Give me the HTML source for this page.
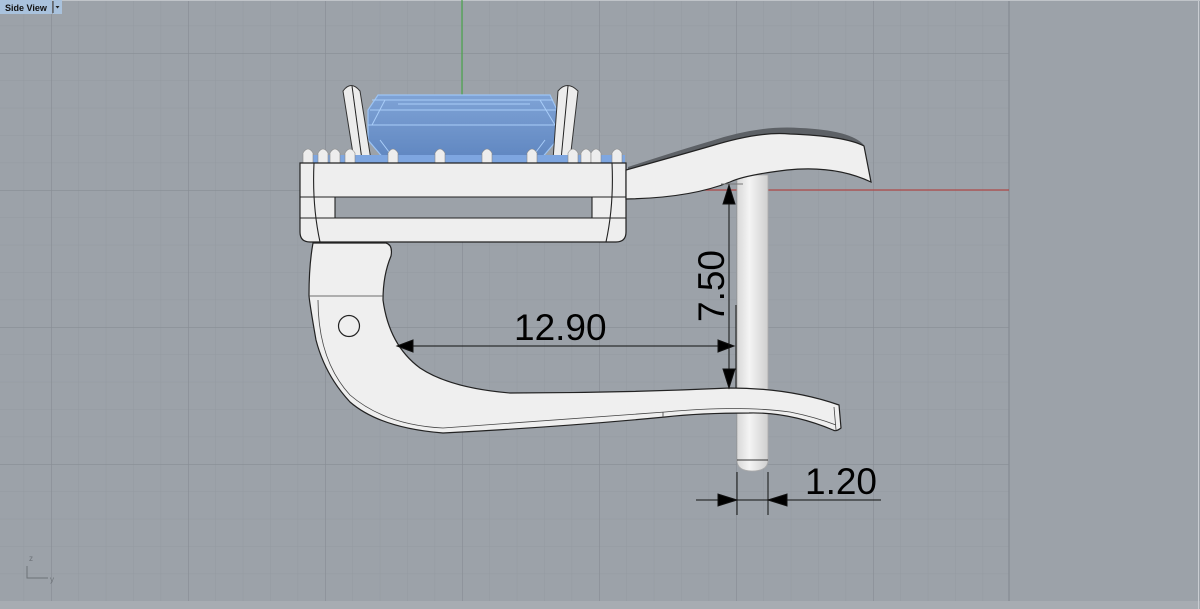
<!DOCTYPE html>
<html><head><meta charset="utf-8"><style>
html,body{margin:0;padding:0;background:#9ca2a9;}
svg{display:block;}
</style></head><body>
<svg width="1200" height="609" viewBox="0 0 1200 609" xmlns="http://www.w3.org/2000/svg">
<defs>
<pattern id="minor" x="462" y="190" width="27.4" height="27.4" patternUnits="userSpaceOnUse">
<path d="M0 0H27.4M0 0V27.4" stroke="#949aa1" stroke-width="1" fill="none"/>
</pattern>
<pattern id="major" x="462" y="190" width="137" height="137" patternUnits="userSpaceOnUse">
<path d="M0 0H137M0 0V137" stroke="#878d94" stroke-width="1.3" fill="none"/>
</pattern>
<linearGradient id="pin" x1="0" x2="1" y1="0" y2="0">
<stop offset="0" stop-color="#d8d8d8"/><stop offset="0.4" stop-color="#f4f4f4"/><stop offset="1" stop-color="#cfcfcf"/>
</linearGradient>
<linearGradient id="stone" x1="0" x2="0" y1="0" y2="1">
<stop offset="0" stop-color="#7fa3d6"/><stop offset="1" stop-color="#5f86c0"/>
</linearGradient>
</defs>
<rect width="1200" height="609" fill="#9ca2a9"/>
<rect x="0" y="0" width="1009" height="601" fill="url(#minor)"/>
<rect x="0" y="0" width="1009" height="601" fill="url(#major)"/>
<line x1="1009" y1="0" x2="1009" y2="601" stroke="#878d94" stroke-width="1.3"/>
<rect x="0" y="601" width="1200" height="8" fill="#a7acb2"/>
<line x1="1198.5" y1="0" x2="1198.5" y2="609" stroke="#c9cdd2"/>
<line x1="0" y1="0.5" x2="1200" y2="0.5" stroke="#c0c4c9"/>
<line x1="462" y1="0" x2="462" y2="120" stroke="#4aa54a" stroke-width="1.2"/>
<line x1="462" y1="190" x2="1009" y2="190" stroke="#b04848" stroke-width="1.2"/>
<rect x="0" y="0" width="52" height="14" fill="#a9c2dd"/>
<text x="5" y="11" font-family="Liberation Sans, sans-serif" font-size="9" font-weight="bold" fill="#111">Side View</text>
<rect x="53" y="0" width="9" height="14" fill="#a9c2dd"/>
<line x1="53" y1="1" x2="53" y2="13" stroke="#333"/>
<path d="M55.5 6h4l-2 2.5z" fill="#222"/>
<path d="M27 566V578H48" stroke="#6d7278" fill="none" stroke-width="1"/>
<text x="29" y="561" font-family="Liberation Sans, sans-serif" font-size="8" fill="#6d7278">z</text>
<text x="50" y="582" font-family="Liberation Sans, sans-serif" font-size="8" fill="#6d7278">y</text>

<path d="M378 95H550L557 110V140L540 160H385L368 140V110Z" fill="url(#stone)" stroke="#9cc4f5" stroke-width="1.2"/>
<path d="M372 100H553M370 110H556M368 125H557M385 100L372 125M540 100L555 125M380 140L395 160M545 140L530 160M398 104H530" stroke="#a9cdf8" stroke-width="1" fill="none"/>
<path d="M408 197H520L505 212H423Z" fill="#5f86c0" stroke="#9cc4f5" stroke-width="1"/>
<path d="M343 91Q351 80 360 91L371 160H354Z" fill="#ececec" stroke="#333" stroke-width="1"/>
<path d="M352 86L362 160" stroke="#222" stroke-width="1"/>
<path d="M558 91Q567 80 578 91L570 160H553Z" fill="#ececec" stroke="#333" stroke-width="1"/>
<path d="M568 86L561 160" stroke="#222" stroke-width="1"/>
<rect x="305" y="155" width="320" height="9" fill="#7ea6e0"/>
<g fill="#ededed" stroke="#888" stroke-width="0.6">
<path d="M303 163V153Q308 145 313 153V163Z"/>
<path d="M318 163V153Q323 145 328 153V163Z"/>
<path d="M330 163V153Q335 145 340 153V163Z"/>
<path d="M345 163V153Q350 145 355 153V163Z"/>
<path d="M388 163V153Q393 145 398 153V163Z"/>
<path d="M435 163V153Q440 145 445 153V163Z"/>
<path d="M482 163V153Q487 145 492 153V163Z"/>
<path d="M527 163V153Q532 145 537 153V163Z"/>
<path d="M568 163V153Q573 145 578 153V163Z"/>
<path d="M581 163V153Q586 145 591 153V163Z"/>
<path d="M591 163V153Q596 145 601 153V163Z"/>
<path d="M612 163V153Q617 145 622 153V163Z"/>
</g>
<path d="M300 163H626V232Q626 242 616 242H310Q300 242 300 232Z" fill="#eeeeee" stroke="#222" stroke-width="1.2"/>
<rect x="335" y="197" width="257" height="21" fill="#9ca2a9"/>
<path d="M300 197H626M335 197V218H592V197M300 218H626" stroke="#222" stroke-width="1.1" fill="none"/>
<path d="M314 163Q312 205 320 242M612 163Q614 205 606 242" stroke="#222" stroke-width="1.1" fill="none"/>

<!-- pin (behind arm and lever) -->
<path d="M737 175H768V460Q768 471 752 471Q737 471 737 460Z" fill="url(#pin)" stroke="#aaa" stroke-width="0.8"/>
<path d="M737 460H768" stroke="#333"/>

<path d="M628 167Q680 150 711 141Q760 125 800 128Q850 130 864 145L862 150Q840 133 787 134Q740 138 711 149Q670 162 628 172Z" fill="#5d6166"/>
<path d="M626 170Q680 155 711 146Q760 131 790 134Q845 136 864 146L871 182Q835 165 787 170Q745 175 730 182Q690 198 626 199Z" fill="#efefef" stroke="#222" stroke-width="1.2"/>

<path d="M313 243H386Q393 245 391 256Q383 275 383 300Q389 345 420 368Q450 388 510 393Q620 393 730 388Q790 388 839 405L841 428Q836 432 833 430Q790 412 749 413Q700 413 665 417Q560 427 443 433Q380 428 350 402Q325 375 316 340Q309 300 309 295Q309 265 313 243Z" fill="#efefef" stroke="#222" stroke-width="1.2"/>
<path d="M309 296H383M318 300Q318 360 350 395Q385 425 443 428Q560 420 665 412Q740 405 790 412Q815 417 836 425M663 412V418M834 407L836 430" stroke="#444" stroke-width="0.8" fill="none"/>
<circle cx="349" cy="326" r="10.5" fill="none" stroke="#222" stroke-width="1.2"/>

<g stroke="#111" stroke-width="1" fill="#000">
<line x1="397" y1="346" x2="734" y2="346"/>
<path d="M397 346L413 340V352Z"/>
<path d="M734 346L718 340V352Z"/>
<line x1="736" y1="305" x2="736" y2="388"/>
<line x1="729" y1="184" x2="729" y2="388"/>
<line x1="721" y1="184" x2="743" y2="184" stroke="#777"/>
<path d="M729 185L723 204H735Z"/>
<path d="M729 388L723 369H735Z"/>
<line x1="737" y1="472" x2="737" y2="515"/>
<line x1="768" y1="472" x2="768" y2="515"/>
<line x1="696" y1="500" x2="881" y2="500"/>
<path d="M737 500L718 494V506Z"/>
<path d="M768 500L787 494V506Z"/>
</g>
<g font-family="Liberation Sans, sans-serif" font-size="37" fill="#000">
<text x="514" y="340">12.90</text>
<text x="805" y="494">1.20</text>
<text transform="translate(724 322) rotate(-90)">7.50</text>
</g>
</svg>
</body></html>
